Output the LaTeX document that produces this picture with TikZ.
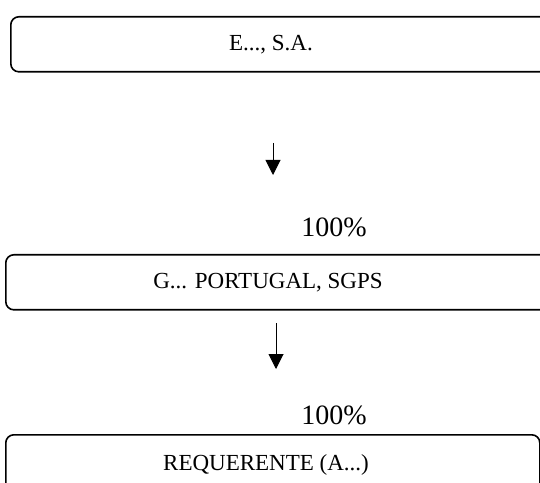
\documentclass[tikz,border=0pt]{standalone}
\usepackage{fontspec}
\setmainfont{Liberation Serif}
\usetikzlibrary{arrows.meta}
\begin{document}
\begin{tikzpicture}[x=1pt,y=1pt,
  entity/.style={draw=black, line width=1.6pt, rounded corners=8pt, inner sep=0pt, anchor=north west},
  entname/.style={font=\fontsize{23}{23}\selectfont, anchor=base, inner sep=0pt},
  share/.style={font=\fontsize{28}{28}\selectfont, anchor=base, inner sep=0pt},
  owns/.style={line width=1pt, -{Triangle[width=15pt,length=15pt]}}]
\useasboundingbox (0,0) rectangle (540,482);
\clip (0,0) rectangle (540,482);
% holding chain: three entities, each owned 100% by the one above
\node[entity, minimum width=560pt, minimum height=55pt] (top) at (10,466) {};
\node[entname] (toptext) at (271,431.5) {E..., S.A.};

\coordinate (a1s) at (273,339);
\coordinate (a1e) at (273,307);
\draw[owns] (a1s) -- (a1e);

\node[share] (p1) at (334,245) {100\%};

\node[entity, minimum width=560pt, minimum height=55pt] (mid) at (5,228) {};
\node[entname] (midtext) at (268,193.5) {G... PORTUGAL, SGPS};

\coordinate (a2s) at (276,159);
\coordinate (a2e) at (276,113);
\draw[owns] (a2s) -- (a2e);

\node[share] (p2) at (334,58) {100\%};

\node[entity, minimum width=534pt, minimum height=70pt] (bot) at (5,48) {};
\node[entname] (bottext) at (266,12) {REQUERENTE (A...)};
\end{tikzpicture}
\end{document}
